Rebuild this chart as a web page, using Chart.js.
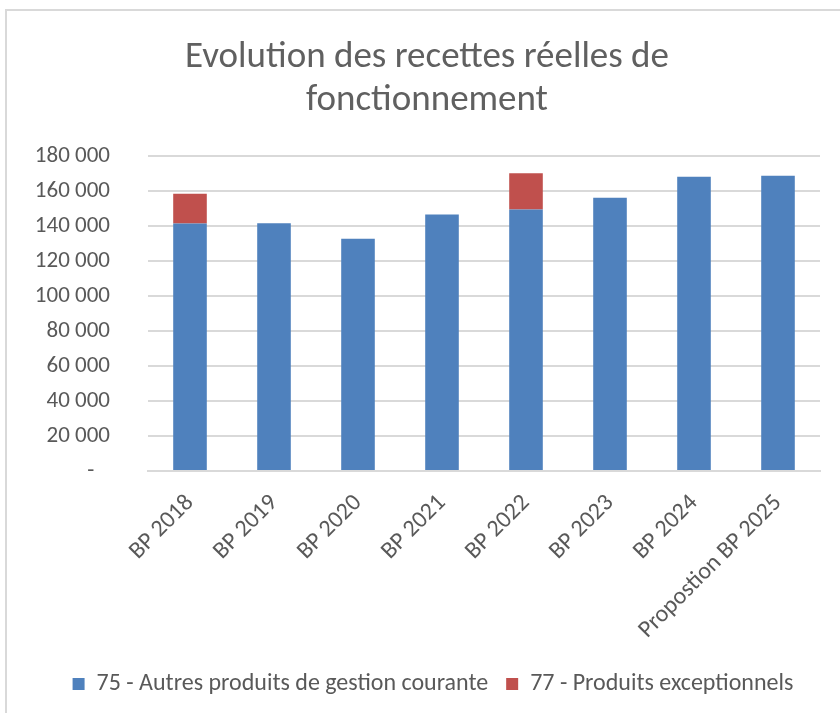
<!DOCTYPE html>
<html>
<head>
<meta charset="utf-8">
<script src="https://cdn.jsdelivr.net/npm/chart.js@4/dist/chart.umd.min.js"></script>
<style>
  html, body { margin: 0; padding: 0; background: #fff; }
  #wrap { position: relative; width: 840px; height: 713px; }
  #frame { position: absolute; left: 5px; top: 9px; width: 850px; height: 720px;
           border-left: 2px solid #d9d9d9; border-top: 2px solid #d9d9d9; }
  canvas { position: absolute; left: 0; top: 0; }
</style>
</head>
<body>
<div id="wrap">
  <div id="frame"></div>
  <canvas id="chart" width="840" height="713"></canvas>
</div>
<script>
const categories = ['BP 2018', 'BP 2019', 'BP 2020', 'BP 2021', 'BP 2022', 'BP 2023', 'BP 2024', 'Propostion BP 2025'];
const autresProduits = [141400, 141500, 132600, 146500, 149400, 156100, 168000, 168700];
const produitsExceptionnels = [17000, 0, 0, 0, 20700, 0, 0, 0];
const seriesNames = ['75 - Autres produits de gestion courante', '77 - Produits exceptionnels'];
const titleLines = ['Evolution des recettes réelles de', 'fonctionnement'];

const grey = '#595959';
const font = 'Carlito, Calibri, "Liberation Sans Narrow", "Open Sans", sans-serif';

function formatTick(v) {
    if (v === 0) return '-   ';
    return String(v).replace(/\B(?=(\d{3})+(?!\d))/g, ' ');
}

// titre et légende sont un peu décalés vers la droite dans l'original
const shiftBlocks = {
    id: 'shiftBlocks',
    afterLayout(chart) {
        chart.legend.left += 23;
        chart.legend.right += 23;
        chart.titleBlock.left += 17;
        chart.titleBlock.right += 17;
    }
};

const ctx = document.getElementById('chart').getContext('2d');
new Chart(ctx, {
    type: 'bar',
    data: {
        labels: categories,
        datasets: [{
            label: seriesNames[0],
            data: autresProduits,
            backgroundColor: '#4F81BD',
            borderWidth: 0
        }, {
            label: seriesNames[1],
            data: produitsExceptionnels,
            backgroundColor: '#C0504D',
            borderWidth: 0
        }]
    },
    options: {
        responsive: false,
        animation: false,
        layout: { padding: { left: 0, right: 20, top: 26, bottom: 7 } },
        datasets: { bar: { barPercentage: 0.4, categoryPercentage: 1 } },
        plugins: {
            title: {
                display: true,
                text: titleLines,
                color: '#606060',
                font: { family: font, size: 37, weight: '300', lineHeight: 1.16 },
                padding: { top: 10, bottom: 34 }
            },
            legend: {
                position: 'bottom',
                labels: {
                    color: grey,
                    font: { family: font, size: 24 },
                    boxWidth: 12,
                    boxHeight: 12,
                    padding: 18
                }
            },
            tooltip: { enabled: false }
        },
        scales: {
            x: {
                stacked: true,
                afterFit: (scale) => { scale.height = 183; },
                grid: { display: false },
                border: { color: '#d9d9d9', width: 2 },
                ticks: {
                    color: grey,
                    font: { family: font, size: 24 },
                    minRotation: 45,
                    maxRotation: 45,
                    padding: 10
                }
            },
            y: {
                stacked: true,
                min: 0,
                max: 180000,
                afterFit: (scale) => { scale.width = 148; },
                grid: { color: '#d9d9d9', lineWidth: 2, drawTicks: false },
                border: { display: false },
                ticks: {
                    stepSize: 20000,
                    color: grey,
                    font: { family: font, size: 23 },
                    padding: 38,
                    callback: formatTick
                }
            }
        }
    },
    plugins: [shiftBlocks]
});
</script>
</body>
</html>
